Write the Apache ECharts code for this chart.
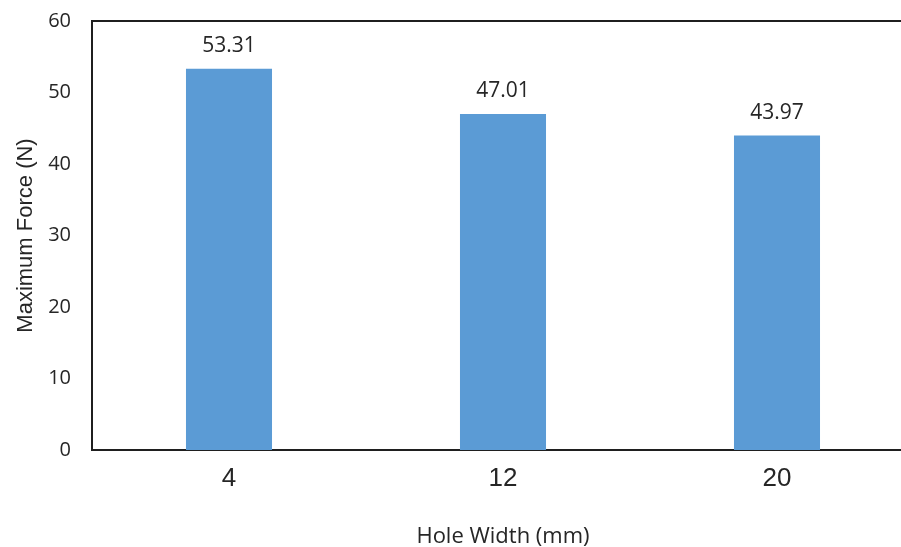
<!DOCTYPE html>
<html>
<head>
<meta charset="utf-8">
<script src="https://cdn.jsdelivr.net/npm/echarts@6/dist/echarts.min.js"></script>
<style>
  html, body { margin: 0; padding: 0; background: #ffffff; }
  #chart { width: 901px; height: 547px; }
</style>
</head>
<body>
<div id="chart"></div>
<script>
// Maximum force measured for each hole width
const holeWidths = ['4', '12', '20'];
const maxForce = [53.31, 47.01, 43.97];
const yTicks = { min: 0, max: 60, interval: 10 };

const textColor = '#262626';
const frameColor = '#1f1f1f';

const chart = echarts.init(document.getElementById('chart'), null, { renderer: 'canvas' });

chart.setOption({
  backgroundColor: '#ffffff',
  animation: false,
  grid: {
    left: 92,
    top: 21,
    width: 822,
    height: 429,
    outerBoundsMode: 'none',
    containLabel: false,
    show: true,
    borderColor: frameColor,
    borderWidth: 2,
    backgroundColor: 'transparent'
  },
  xAxis: {
    type: 'category',
    data: holeWidths,
    name: 'Hole Width (mm)',
    nameLocation: 'middle',
    nameGap: 76,
    nameTextStyle: { fontFamily: 'Open Sans', fontSize: 22, color: textColor },
    axisLine: { show: true, lineStyle: { color: frameColor, width: 2 } },
    axisTick: { show: false },
    axisLabel: { fontFamily: 'Liberation Sans', fontSize: 26, color: textColor, margin: 16 },
    splitLine: { show: false }
  },
  yAxis: {
    type: 'value',
    min: yTicks.min,
    max: yTicks.max,
    interval: yTicks.interval,
    name: 'Maximum Force (N)',
    nameLocation: 'middle',
    nameGap: 54,
    nameTextStyle: { fontFamily: 'Liberation Sans', fontSize: 22, color: textColor },
    axisLine: { show: true, lineStyle: { color: frameColor, width: 2 } },
    axisTick: { show: false },
    axisLabel: { fontFamily: 'Open Sans', fontSize: 20, color: textColor, margin: 21 },
    splitLine: { show: false }
  },
  series: [{
    type: 'bar',
    data: maxForce,
    barWidth: '31.4%',
    itemStyle: { color: '#5b9bd5' },
    label: {
      show: true,
      position: 'top',
      distance: 12,
      fontFamily: 'Open Sans',
      fontSize: 21,
      color: textColor,
      formatter: p => p.value.toFixed(2)
    }
  }]
});
</script>
</body>
</html>
